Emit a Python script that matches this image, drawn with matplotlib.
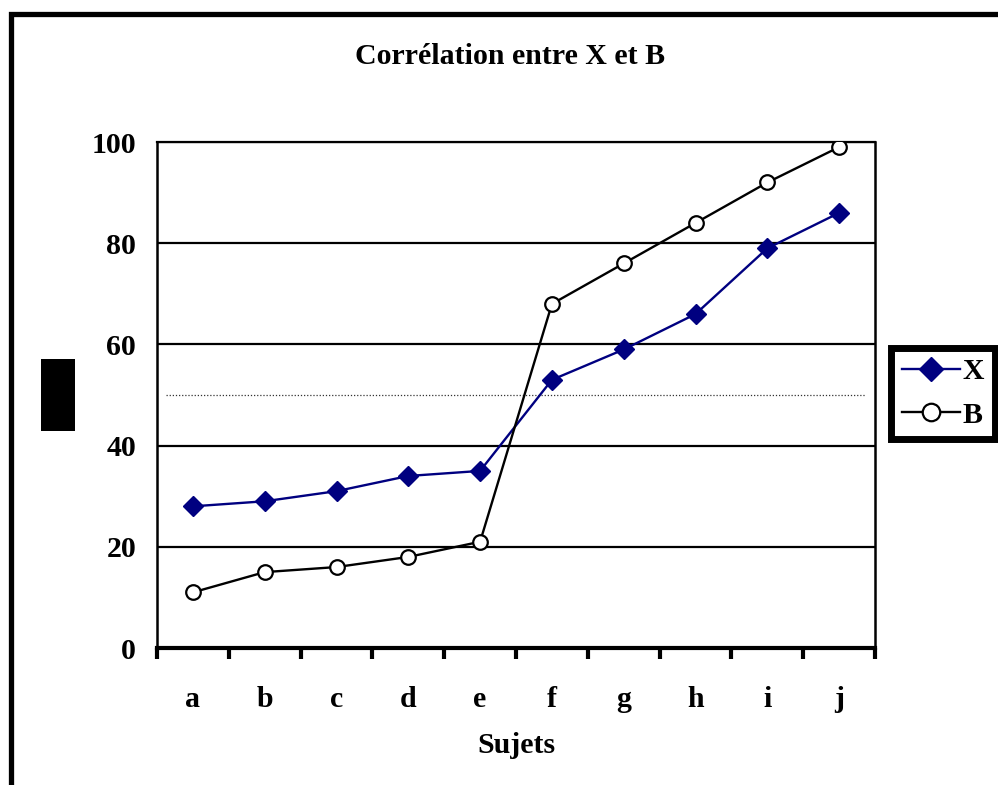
import matplotlib.pyplot as plt
from matplotlib.patches import Rectangle

plt.rcParams['font.family'] = ['Liberation Serif', 'DejaVu Serif']
plt.rcParams['font.weight'] = 'bold'

sujets = ['a', 'b', 'c', 'd', 'e', 'f', 'g', 'h', 'i', 'j']
x_vals = [28, 29, 31, 34, 35, 53, 59, 66, 79, 86]
b_vals = [11, 15, 16, 18, 21, 68, 76, 84, 92, 99]
y_ticks = [0, 20, 40, 60, 80, 100]
ligne_moy = 50

fs = 21.5

fig = plt.figure(figsize=(9.98, 7.85), dpi=100)
ax = fig.add_axes([0.1573, 0.1745, 0.7195, 0.6446])

pos = [i + 0.5 for i in range(len(sujets))]

# grille horizontale + ligne pointillée
for v in y_ticks[1:]:
    ax.axhline(v, color='black', lw=1.6, zorder=1)
ax.plot([0.13, 9.87], [ligne_moy, ligne_moy], color='#333333', lw=0.9, ls=(0, (1, 1.5)), zorder=1)

ax.plot(pos, x_vals, color='#000080', lw=1.7, marker='D', ms=10,
        mfc='#000080', mec='#000080', label='X', zorder=3)
ax.plot(pos, b_vals, color='black', lw=1.7, marker='o', ms=10.5,
        mfc='white', mec='black', mew=1.6, label='B', zorder=3)

ax.set_xlim(0, 10)
ax.set_ylim(0, 100)
ax.set_xticks(range(11))
ax.set_xticklabels([])
ax.set_xticks(pos, minor=True)
ax.set_xticklabels(sujets, minor=True, fontsize=fs, fontweight='bold')
ax.tick_params(axis='x', which='major', direction='out', length=8, width=3)
ax.tick_params(axis='x', which='minor', length=0, pad=27)
ax.set_yticks(y_ticks)
ax.set_yticklabels([str(v) for v in y_ticks], fontsize=fs, fontweight='bold')
ax.tick_params(axis='y', length=0, pad=15)

ax.spines['bottom'].set_linewidth(3)
ax.spines['left'].set_linewidth(1.8)
ax.spines['right'].set_linewidth(1.8)
ax.spines['top'].set_linewidth(1.6)

ax.set_xlabel('Sujets', fontsize=fs, fontweight='bold', labelpad=14)
fig.text(0.511, 0.928, 'Corrélation entre X et B', ha='center', va='center',
         fontsize=fs, fontweight='bold')

leg = fig.legend(loc='upper left', bbox_to_anchor=(0.893, 0.557), fontsize=fs,
                 handlelength=1.95, handletextpad=0.1, borderpad=0.35,
                 labelspacing=0.55, fancybox=False, framealpha=1, borderaxespad=0,
                 markerscale=1.2)
leg.get_frame().set_edgecolor('black')
leg.get_frame().set_linewidth(5)

# bloc noir à gauche
fig.patches.append(Rectangle((0.0411, 0.451), 0.0341, 0.0917, transform=fig.transFigure,
                             facecolor='black', edgecolor='none'))
# cadre extérieur
fig.patches.append(Rectangle((0.0115, -0.2), 1.2, 1.182, transform=fig.transFigure,
                             facecolor='none', edgecolor='black', lw=3.8))

fig.savefig('out.png', dpi=100)
